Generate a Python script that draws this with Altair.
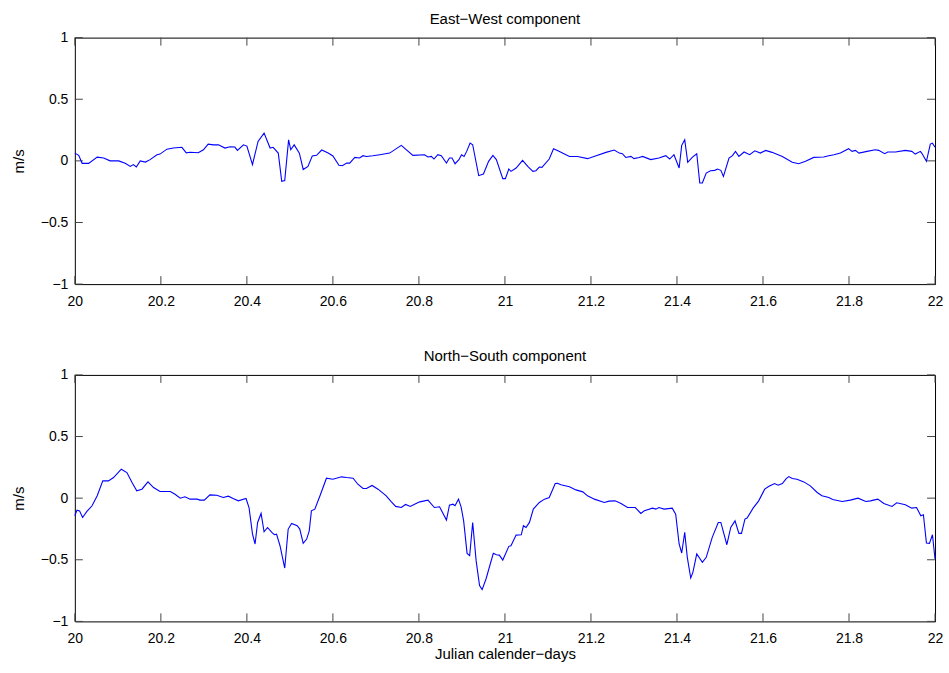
import altair as alt
import pandas as pd

# ---- data ----
ew_day = [20.000, 20.009, 20.017, 20.032, 20.052, 20.067, 20.082, 20.102, 20.117, 20.129,
          20.136, 20.143, 20.152, 20.164, 20.175, 20.191, 20.198, 20.214, 20.229, 20.249,
          20.259, 20.268, 20.287, 20.299, 20.310, 20.322, 20.334, 20.349, 20.361, 20.372,
          20.378, 20.392, 20.400, 20.413, 20.426, 20.440, 20.454, 20.461, 20.473, 20.481,
          20.488, 20.497, 20.502, 20.510, 20.522, 20.531, 20.542, 20.552, 20.562, 20.574,
          20.589, 20.600, 20.614, 20.622, 20.632, 20.639, 20.651, 20.662, 20.670, 20.678,
          20.693, 20.709, 20.732, 20.759, 20.786, 20.813, 20.821, 20.829, 20.835, 20.844,
          20.852, 20.864, 20.871, 20.877, 20.884, 20.893, 20.899, 20.905, 20.911, 20.919,
          20.925, 20.939, 20.950, 20.962, 20.972, 20.980, 20.995, 21.001, 21.009, 21.014,
          21.026, 21.041, 21.053, 21.065, 21.072, 21.080, 21.086, 21.103, 21.113, 21.122,
          21.150, 21.169, 21.192, 21.212, 21.235, 21.254, 21.266, 21.273, 21.281, 21.293,
          21.300, 21.312, 21.320, 21.339, 21.358, 21.374, 21.383, 21.393, 21.405, 21.411,
          21.418, 21.425, 21.436, 21.446, 21.453, 21.459, 21.468, 21.478, 21.488, 21.494,
          21.502, 21.508, 21.521, 21.529, 21.536, 21.544, 21.556, 21.569, 21.581, 21.594,
          21.606, 21.621, 21.645, 21.668, 21.683, 21.699, 21.718, 21.741, 21.753, 21.765,
          21.780, 21.799, 21.807, 21.815, 21.823, 21.842, 21.861, 21.869, 21.883, 21.890,
          21.908, 21.931, 21.946, 21.954, 21.966, 21.969, 21.980, 21.989, 21.994, 22.000]
ew_val = [0.063, 0.045, -0.02, -0.02, 0.03, 0.023, 0.0, 0.0, -0.02, -0.045,
          -0.03, -0.05, 0.0, -0.01, 0.01, 0.05, 0.055, 0.095, 0.104, 0.11,
          0.065, 0.07, 0.066, 0.09, 0.136, 0.13, 0.13, 0.104, 0.115, 0.112,
          0.085, 0.13, 0.12, -0.03, 0.158, 0.225, 0.104, 0.11, 0.063, -0.166,
          -0.16, 0.17, 0.09, 0.13, 0.063, -0.07, -0.045, 0.04, 0.045, 0.088,
          0.063, 0.04, -0.036, -0.04, -0.018, -0.018, 0.028, 0.023, 0.042, 0.036,
          0.042, 0.05, 0.063, 0.126, 0.045, 0.05, 0.031, 0.036, 0.015, 0.05,
          0.042, -0.018, 0.023, 0.023, -0.023, 0.01, 0.05, 0.036, 0.077, 0.144,
          0.131, -0.12, -0.107, -0.004, 0.045, 0.01, -0.144, -0.144, -0.066, -0.085,
          -0.058, 0.004, -0.045, -0.085, -0.08, -0.05, -0.053, 0.015, 0.099, 0.085,
          0.036, 0.036, 0.018, 0.042, 0.069, 0.088, 0.063, 0.058, 0.028, 0.036,
          0.018, 0.028, 0.036, 0.01, 0.023, 0.042, 0.015, 0.05, -0.058, 0.126,
          0.171, -0.012, 0.031, 0.058, -0.18, -0.18, -0.099, -0.08, -0.077, -0.066,
          -0.077, -0.126, 0.023, 0.042, 0.077, 0.036, 0.072, 0.05, 0.082, 0.063,
          0.085, 0.069, 0.036, -0.012, -0.023, -0.004, 0.028, 0.031, 0.042, 0.05,
          0.063, 0.099, 0.077, 0.085, 0.063, 0.077, 0.09, 0.085, 0.058, 0.072,
          0.072, 0.085, 0.077, 0.055, 0.077, 0.063, -0.004, 0.136, 0.144, 0.11]

ns_day = [20.000, 20.005, 20.011, 20.018, 20.028, 20.040, 20.052, 20.065, 20.078, 20.090,
          20.108, 20.121, 20.133, 20.144, 20.156, 20.170, 20.183, 20.198, 20.222, 20.233,
          20.245, 20.256, 20.268, 20.284, 20.291, 20.301, 20.314, 20.330, 20.345, 20.357,
          20.368, 20.380, 20.398, 20.405, 20.413, 20.419, 20.425, 20.433, 20.440, 20.448,
          20.458, 20.464, 20.469, 20.477, 20.488, 20.496, 20.504, 20.517, 20.523, 20.531,
          20.539, 20.545, 20.550, 20.558, 20.570, 20.585, 20.600, 20.620, 20.632, 20.647,
          20.658, 20.670, 20.678, 20.691, 20.705, 20.724, 20.736, 20.746, 20.759, 20.769,
          20.780, 20.790, 20.802, 20.821, 20.836, 20.848, 20.864, 20.871, 20.879, 20.884,
          20.892, 20.898, 20.904, 20.912, 20.918, 20.925, 20.933, 20.941, 20.947, 20.956,
          20.973, 20.980, 20.987, 20.995, 21.009, 21.014, 21.026, 21.038, 21.043, 21.049,
          21.057, 21.066, 21.080, 21.092, 21.103, 21.117, 21.122, 21.130, 21.150, 21.165,
          21.181, 21.192, 21.208, 21.231, 21.242, 21.256, 21.270, 21.285, 21.303, 21.316,
          21.324, 21.343, 21.351, 21.358, 21.370, 21.389, 21.397, 21.405, 21.411, 21.418,
          21.424, 21.432, 21.437, 21.446, 21.459, 21.468, 21.482, 21.496, 21.502, 21.516,
          21.525, 21.535, 21.544, 21.550, 21.558, 21.563, 21.577, 21.590, 21.604, 21.614,
          21.627, 21.635, 21.645, 21.654, 21.660, 21.668, 21.679, 21.695, 21.710, 21.726,
          21.737, 21.753, 21.762, 21.784, 21.803, 21.821, 21.839, 21.850, 21.857, 21.867,
          21.881, 21.900, 21.911, 21.931, 21.946, 21.957, 21.967, 21.973, 21.980, 21.987,
          21.994, 22.000]
ns_val = [-0.143, -0.097, -0.103, -0.157, -0.108, -0.062, 0.019, 0.14, 0.14, 0.167,
          0.235, 0.208, 0.127, 0.059, 0.073, 0.132, 0.086, 0.054, 0.054, 0.032,
          0.0, 0.011, -0.008, -0.008, -0.016, -0.016, 0.027, 0.024, 0.005, 0.016,
          -0.003, -0.022, -0.003, -0.076, -0.29, -0.372, -0.197, -0.124, -0.273, -0.238,
          -0.278, -0.297, -0.292, -0.386, -0.567, -0.251, -0.205, -0.224, -0.251, -0.367,
          -0.332, -0.265, -0.103, -0.089, 0.019, 0.162, 0.154, 0.173, 0.167, 0.162,
          0.113, 0.078, 0.078, 0.103, 0.073, 0.019, -0.03, -0.067, -0.076, -0.051,
          -0.067, -0.049, -0.03, -0.016, -0.076, -0.07, -0.178, -0.057, -0.049, -0.062,
          -0.008, -0.07, -0.184, -0.448, -0.467, -0.197, -0.507, -0.71, -0.742, -0.656,
          -0.448, -0.459, -0.462, -0.502, -0.391, -0.386, -0.3, -0.297, -0.224, -0.238,
          -0.197, -0.089, -0.035, -0.008, 0.005, 0.119, 0.121, 0.108, 0.092, 0.067,
          0.051, 0.019, -0.008, -0.035, -0.024, -0.022, -0.043, -0.076, -0.076, -0.124,
          -0.103, -0.081, -0.089, -0.076, -0.089, -0.081, -0.13, -0.372, -0.445, -0.278,
          -0.48, -0.648, -0.602, -0.453, -0.521, -0.48, -0.318, -0.197, -0.197, -0.378,
          -0.238, -0.184, -0.286, -0.286, -0.17, -0.162, -0.081, -0.022, 0.073, 0.097,
          0.119, 0.105, 0.119, 0.159, 0.175, 0.159, 0.154, 0.132, 0.1, 0.046,
          0.019, 0.005, -0.011, -0.027, -0.016, 0.0, -0.027, -0.022, -0.016, -0.008,
          -0.043, -0.067, -0.038, -0.054, -0.081, -0.076, -0.143, -0.135, -0.364, -0.367,
          -0.297, -0.494]

x_ticks = [20.0, 20.2, 20.4, 20.6, 20.8, 21.0, 21.2, 21.4, 21.6, 21.8, 22.0]
y_ticks = [-1.0, -0.5, 0.0, 0.5, 1.0]
titles = ["East\u2212West component", "North\u2212South component"]
x_title = "Julian calender\u2212days"
y_title = "m/s"

W, H = 862, 247
TL = 8
FONT = "Liberation Sans"

xdom = [20, 22]
ydom = [-1, 1]
xtick_df = pd.DataFrame({"day": x_ticks})
ytick_df = pd.DataFrame({"v": y_ticks})


def panel(days, vals, title, show_xtitle):
    df = pd.DataFrame({"day": days, "v": vals})
    xscale = alt.Scale(domain=xdom, nice=False, zero=False)
    yscale = alt.Scale(domain=ydom, nice=False, zero=False)
    xaxis = alt.Axis(values=x_ticks, format="~g", tickSize=0, domain=False, grid=False,
                     labelPadding=10, labelFontSize=14, labelFont=FONT, labelColor="black",
                     title=x_title if show_xtitle else None, titleFontSize=15, titleFont=FONT,
                     titleFontWeight="normal", titleColor="black", titlePadding=1,
                     labelFlush=False)
    yaxis = alt.Axis(values=y_ticks, format="~g", tickSize=0, domain=False, grid=False,
                     labelPadding=7, labelFontSize=14, labelFont=FONT, labelColor="black",
                     title=y_title, titleFontSize=15, titleFont=FONT, titleFontWeight="normal",
                     titleColor="black", titlePadding=14, labelFlush=False)
    line = alt.Chart(df).mark_line(color="#0000ff", strokeWidth=1.1).encode(
        x=alt.X("day:Q", scale=xscale, axis=xaxis),
        y=alt.Y("v:Q", scale=yscale, axis=yaxis),
    )
    tick_col = "#444444"
    xb = alt.Chart(xtick_df).mark_rule(color=tick_col, strokeWidth=1).encode(
        x=alt.X("day:Q", scale=xscale), y=alt.value(H), y2=alt.value(H - TL))
    xt = alt.Chart(xtick_df).mark_rule(color=tick_col, strokeWidth=1).encode(
        x=alt.X("day:Q", scale=xscale), y=alt.value(0), y2=alt.value(TL))
    yl = alt.Chart(ytick_df).mark_rule(color=tick_col, strokeWidth=1).encode(
        y=alt.Y("v:Q", scale=yscale), x=alt.value(0), x2=alt.value(TL))
    yr = alt.Chart(ytick_df).mark_rule(color=tick_col, strokeWidth=1).encode(
        y=alt.Y("v:Q", scale=yscale), x=alt.value(W), x2=alt.value(W - TL))
    return alt.layer(xb, xt, yl, yr, line).properties(
        width=W, height=H,
        title=alt.TitleParams(title, fontSize=15, font=FONT, fontWeight="normal",
                              color="black", anchor="middle", offset=4),
    )


chart = alt.vconcat(
    panel(ew_day, ew_val, titles[0], False),
    panel(ns_day, ns_val, titles[1], True),
    spacing=39,
).properties(
    background="white",
    padding={"left": 10, "top": 10, "right": 5, "bottom": 5},
).configure_view(stroke="black", strokeWidth=1)

chart.save("out.html", embed_options={"renderer": "svg", "actions": False})
